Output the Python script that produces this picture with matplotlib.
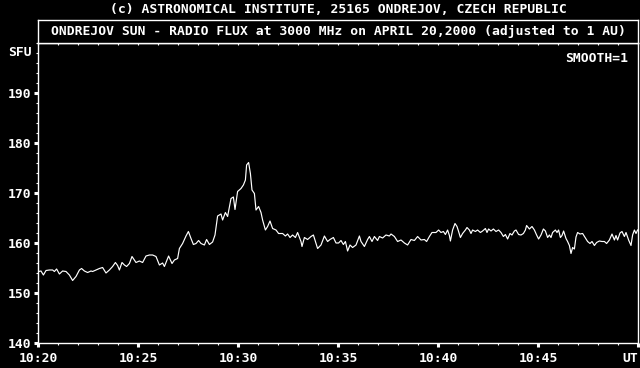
import matplotlib
matplotlib.use("Agg")
import matplotlib.pyplot as plt
from matplotlib.ticker import MultipleLocator, FixedLocator

# ---- data: minutes after 10:20 UT, flux in SFU ----
minutes = [
    0.03, 0.15, 0.27, 0.40, 0.57, 0.73, 0.82, 0.93, 1.07, 1.23, 1.40, 1.57, 1.73, 1.90,
    2.07, 2.18, 2.32, 2.48, 2.65, 2.73, 2.90, 3.07, 3.23, 3.40, 3.57, 3.73, 3.87, 3.98,
    4.07, 4.20, 4.32, 4.43, 4.57, 4.70, 4.82, 4.90, 5.07, 5.23, 5.40, 5.57, 5.73, 5.90,
    6.07, 6.23, 6.32, 6.53, 6.70, 6.82, 6.98, 7.07, 7.23, 7.40, 7.52, 7.65, 7.77, 7.90,
    8.03, 8.15, 8.32, 8.43, 8.57, 8.73, 8.85, 8.98, 9.15, 9.23, 9.37, 9.48, 9.65, 9.77,
    9.85, 9.98, 10.15, 10.27, 10.37, 10.43, 10.53, 10.62, 10.70, 10.82, 10.90, 11.03,
    11.15, 11.23, 11.37, 11.48, 11.60, 11.73, 11.90, 12.03, 12.23, 12.37, 12.48, 12.60,
    12.73, 12.87, 12.98, 13.15, 13.20, 13.32, 13.48, 13.65, 13.77, 13.90, 13.98, 14.15,
    14.32, 14.48, 14.60, 14.77, 14.90, 15.03, 15.15, 15.27, 15.37, 15.48, 15.60, 15.73,
    15.90, 16.07, 16.15, 16.32, 16.48, 16.57, 16.70, 16.82, 16.98, 17.07, 17.23, 17.40,
    17.57, 17.65, 17.82, 17.98, 18.15, 18.32, 18.48, 18.65, 18.82, 18.98, 19.15, 19.32,
    19.43, 19.57, 19.70, 19.90, 20.03, 20.15, 20.27, 20.37, 20.48, 20.57, 20.62, 20.73,
    20.85, 20.95, 21.03, 21.12, 21.23, 21.37, 21.45, 21.57, 21.65, 21.73, 21.87, 21.98,
    22.12, 22.23, 22.37, 22.45, 22.53, 22.65, 22.77, 22.90, 23.03, 23.15, 23.27, 23.37,
    23.48, 23.60, 23.70, 23.82, 23.90, 24.03, 24.15, 24.27, 24.37, 24.43, 24.57, 24.70,
    24.82, 24.93, 25.03, 25.15, 25.27, 25.37, 25.48, 25.57, 25.65, 25.73, 25.87, 25.95,
    26.03, 26.12, 26.20, 26.28, 26.40, 26.48, 26.57, 26.65, 26.73, 26.82, 26.90, 26.98,
    27.10, 27.23, 27.37, 27.48, 27.60, 27.70, 27.82, 27.93, 28.07, 28.20, 28.32, 28.43,
    28.57, 28.70, 28.82, 28.90, 28.98, 29.10, 29.20, 29.32, 29.40, 29.53, 29.65, 29.73,
    29.82, 29.90, 29.98,
]
flux = [
    154.3, 154.4, 153.6, 154.5, 154.6, 154.6, 154.3, 154.8, 153.8, 154.4, 154.3, 153.6, 152.5, 153.3,
    154.6, 154.9, 154.4, 154.1, 154.4, 154.3, 154.6, 154.9, 155.1, 154.0, 154.6, 155.3, 156.1, 155.5,
    154.6, 156.1, 155.6, 155.3, 155.9, 157.3, 156.6, 156.1, 156.4, 156.1, 157.4, 157.6, 157.6, 157.3,
    155.6, 156.0, 155.3, 157.4, 155.9, 156.6, 156.9, 158.9, 159.9, 161.4, 162.3, 160.9, 159.7, 159.9,
    160.5, 159.9, 159.6, 160.7, 159.7, 160.2, 161.6, 165.4, 165.8, 164.6, 166.1, 165.3, 168.9, 169.2,
    166.7, 170.3, 170.9, 171.6, 172.6, 175.6, 176.1, 173.9, 170.6, 169.9, 166.6, 167.3,
    166.1, 164.6, 162.6, 163.3, 164.4, 162.9, 162.6, 161.9, 161.9, 161.4, 161.8, 161.1,
    161.6, 161.1, 162.1, 160.3, 159.3, 161.1, 160.7, 161.3, 161.6, 159.9, 158.9, 159.6,
    161.4, 160.3, 160.7, 161.1, 160.0, 160.0, 160.5, 159.7, 160.3, 158.4, 159.6, 159.1,
    159.6, 161.4, 160.3, 159.3, 160.7, 161.3, 160.3, 161.3, 160.5, 161.3, 161.0, 161.6,
    161.4, 161.8, 161.3, 160.3, 160.6, 160.0, 159.6, 160.7, 160.5, 161.3, 160.6, 160.7,
    160.3, 161.3, 162.1, 162.1, 162.6, 162.1, 162.3, 161.7, 162.6, 161.5, 160.4, 162.6,
    163.9, 163.3, 162.3, 161.1, 161.9, 162.6, 163.1, 162.6, 161.9, 162.6, 162.3, 162.6,
    162.1, 162.4, 162.9, 162.1, 162.8, 162.4, 162.8, 162.3, 162.6, 162.1, 161.3, 161.7,
    160.8, 161.9, 161.6, 162.4, 162.6, 161.7, 161.6, 161.9, 162.6, 163.5, 162.8, 163.3,
    162.6, 161.6, 160.8, 161.6, 162.8, 162.4, 161.1, 161.6, 161.1, 162.1, 162.6, 162.1,
    162.6, 161.1, 161.5, 162.4, 160.9, 160.3, 159.5, 157.9, 159.1, 158.8, 161.2, 162.1,
    161.8, 161.9, 161.0, 160.3, 159.9, 160.3, 159.5, 160.1, 160.4, 160.3, 160.3, 159.9,
    160.6, 161.8, 160.6, 161.5, 160.6, 162.0, 162.3, 161.3, 162.1, 160.6, 159.5, 161.6,
    162.6, 161.9, 162.6,
]

x_ticks = [0, 5, 10, 15, 20, 25, 30]
x_labels = ["10:20", "10:25", "10:30", "10:35", "10:40", "10:45", "UT"]
y_ticks = [140, 150, 160, 170, 180, 190]
y_labels = ["140", "150", "160", "170", "180", "190"]

header = "(c) ASTRONOMICAL INSTITUTE, 25165 ONDREJOV, CZECH REPUBLIC"
title = "ONDREJOV SUN - RADIO FLUX at 3000 MHz on APRIL 20,2000 (adjusted to 1 AU)"
y_unit = "SFU"
smooth_note = "SMOOTH=1"

FONT = "DejaVu Sans Mono"
FS = 9.4
W, H = 640, 368

fig = plt.figure(figsize=(W / 100, H / 100), dpi=100, facecolor="black")

# main plot area
ax = fig.add_axes([38 / W, 25 / H, 600 / W, 300 / H], facecolor="black")
ax.plot(minutes, flux, color="white", lw=0.85)
ax.set_xlim(0, 30)
ax.set_ylim(140, 200)

for s in ax.spines.values():
    s.set_color("white")
    s.set_linewidth(1.0)

ax.xaxis.set_major_locator(FixedLocator(x_ticks))
ax.xaxis.set_minor_locator(MultipleLocator(1))
ax.set_xticklabels(x_labels)
ax.yaxis.set_major_locator(FixedLocator(y_ticks))
ax.yaxis.set_minor_locator(MultipleLocator(2))
ax.set_yticklabels(y_labels)

ax.tick_params(which="major", direction="out", length=2.6, width=2.2,
               color="white", labelcolor="white")
ax.tick_params(which="minor", direction="out", length=1.6, width=0.8, color="white")
ax.tick_params(axis="x", which="major", pad=4)
ax.tick_params(axis="y", which="major", pad=2.4)
ax.tick_params(top=False, right=False, which="both")

for lab in ax.get_xticklabels() + ax.get_yticklabels():
    lab.set_fontfamily(FONT)
    lab.set_fontweight("bold")
    lab.set_fontsize(FS)
ax.get_xticklabels()[-1].set_horizontalalignment("right")

# top ticks pointing into the plot
sec = ax.secondary_xaxis("top")
sec.xaxis.set_major_locator(MultipleLocator(1))
sec.tick_params(direction="in", length=1.6, width=0.8, color="white",
                labeltop=False)
sec.spines["top"].set_color("white")

ax.annotate(y_unit, xy=(0, 198), xycoords=("axes fraction", "data"),
            xytext=(-4.6, 0), textcoords="offset points", ha="right", va="center",
            color="white", fontfamily=FONT, fontweight="bold", fontsize=FS)
ax.text(1 - 10 / 600, 1 - 15 / 300, smooth_note, transform=ax.transAxes,
        ha="right", va="center", color="white", fontfamily=FONT,
        fontweight="bold", fontsize=FS)

# title band
tax = fig.add_axes([38 / W, (H - 43) / H, 600 / W, 23 / H], facecolor="black")
tax.set_xticks([])
tax.set_yticks([])
for s in tax.spines.values():
    s.set_color("white")
    s.set_linewidth(1.0)
tax.text(0.5, 0.5, title, transform=tax.transAxes, ha="center", va="center",
         color="white", fontfamily=FONT, fontweight="bold", fontsize=FS)

fig.text(338 / W, 1 - 9.5 / H, header, ha="center", va="center", color="white",
         fontfamily=FONT, fontweight="bold", fontsize=FS)

fig.savefig("out.png", dpi=100, facecolor="black")
